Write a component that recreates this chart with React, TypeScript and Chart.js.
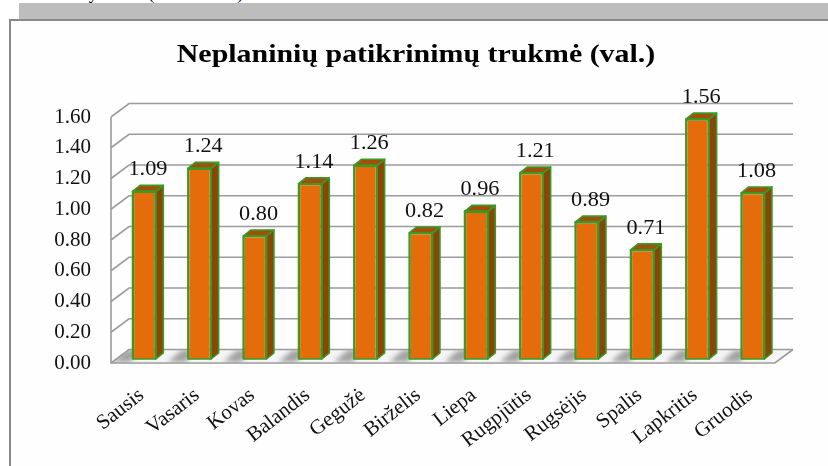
import React, { useEffect, useRef } from "react";
import { Chart, registerables } from "chart.js";

Chart.register(...registerables);

const months = [
  "Sausis",
  "Vasaris",
  "Kovas",
  "Balandis",
  "Gegužė",
  "Birželis",
  "Liepa",
  "Rugpjūtis",
  "Rugsėjis",
  "Spalis",
  "Lapkritis",
  "Gruodis",
];
const hours = [1.09, 1.24, 0.8, 1.14, 1.26, 0.82, 0.96, 1.21, 0.89, 0.71, 1.56, 1.08];
const yMin = 0;
const yMax = 1.6;
const yStep = 0.2;
const titleText = "Neplaninių patikrinimų trukmė (val.)";
const captionText = "Trukmė yra vid. (valandomis)";

const SERIF = "'Liberation Serif', 'Times New Roman', serif";
// 3D geometry
const DX = 18;
const DY = 13.5;
const SX = 5.5;
const SY = -4;
const BDX = 7.5;
const BDY = 6;

const FRONT = "#E46C0A";
const SIDE = "#8A4508";
const TOP = "#A0500A";
const EDGE = "#3A9A25";
const GRID = "#9C9C9C";

const threeD = {
  id: "threeD",
  beforeDatasetsDraw(chart: any) {
    const { ctx, chartArea: a, scales } = chart;
    const y = scales.y;
    ctx.save();
    // floor
    const floorPath = () => {
      ctx.beginPath();
      ctx.moveTo(a.left, a.bottom);
      ctx.lineTo(a.right, a.bottom);
      ctx.lineTo(a.right + DX, a.bottom - DY);
      ctx.lineTo(a.left + DX, a.bottom - DY);
      ctx.closePath();
    };
    floorPath();
    ctx.fillStyle = "#F5F5F5";
    ctx.fill();
    // bar shadows on floor
    const meta = chart.getDatasetMeta(0);
    ctx.save();
    floorPath();
    ctx.clip();
    ctx.filter = "blur(2.5px)";
    meta.data.forEach((bar: any) => {
      const { x, base, width } = bar.getProps(["x", "base", "width"], true);
      const x0 = x - width / 2 + SX;
      const b = base + SY;
      ctx.beginPath();
      ctx.moveTo(x0 - 2, b + 3);
      ctx.lineTo(x0 - 20, b + 3);
      ctx.lineTo(x0 - 6, b - 9);
      ctx.lineTo(x0 + 8, b - 9);
      ctx.closePath();
      ctx.fillStyle = "rgba(105,105,105,0.6)";
      ctx.fill();
    });
    ctx.restore();

    // back wall grid lines + side wall diagonals
    ctx.strokeStyle = GRID;
    ctx.lineWidth = 1.6;
    y.ticks.forEach((t: any) => {
      const py = y.getPixelForValue(t.value);
      ctx.beginPath();
      ctx.moveTo(a.left, py);
      ctx.lineTo(a.left + DX, py - DY);
      ctx.lineTo(a.right + DX, py - DY);
      ctx.stroke();
    });
    // front left edge and floor front edge
    ctx.beginPath();
    ctx.moveTo(a.left, a.top);
    ctx.lineTo(a.left, a.bottom);
    ctx.lineTo(a.right, a.bottom);
    ctx.lineTo(a.right + DX, a.bottom - DY);
    ctx.stroke();
    ctx.restore();

    ctx.save();
    ctx.translate(SX, SY);
  },
  afterDatasetsDraw(chart: any) {
    const { ctx } = chart;
    const meta = chart.getDatasetMeta(0);
    ctx.lineWidth = 1.6;
    ctx.strokeStyle = EDGE;
    ctx.lineJoin = "round";
    meta.data.forEach((bar: any) => {
      const { x, y, base, width } = bar.getProps(["x", "y", "base", "width"], true);
      const x0 = x - width / 2;
      const x1 = x + width / 2;
      // side face
      ctx.beginPath();
      ctx.moveTo(x1, y);
      ctx.lineTo(x1 + BDX, y - BDY);
      ctx.lineTo(x1 + BDX, base - BDY);
      ctx.lineTo(x1, base);
      ctx.closePath();
      ctx.fillStyle = SIDE;
      ctx.fill();
      ctx.stroke();
      // top face
      ctx.beginPath();
      ctx.moveTo(x0, y);
      ctx.lineTo(x0 + BDX, y - BDY);
      ctx.lineTo(x1 + BDX, y - BDY);
      ctx.lineTo(x1, y);
      ctx.closePath();
      ctx.fillStyle = TOP;
      ctx.fill();
      ctx.stroke();
      ctx.strokeRect(x0, y, width, base - y);
    });
    ctx.restore();

    // data labels
    ctx.save();
    ctx.font = `21px ${SERIF}`;
    ctx.fillStyle = "#111";
    ctx.textAlign = "center";
    ctx.textBaseline = "alphabetic";
    meta.data.forEach((bar: any, i: number) => {
      const { x, y } = bar.getProps(["x", "y"], true);
      ctx.save();
      ctx.translate(x + SX + BDX / 2, y + SY - 16);
      ctx.scale(1.06, 1);
      ctx.fillText(hours[i].toFixed(2), 0, 0);
      ctx.restore();
    });
    ctx.restore();
  },
  afterDraw(chart: any) {
    const { ctx } = chart;
    ctx.save();
    ctx.font = `bold 26px ${SERIF}`;
    ctx.fillStyle = "#000";
    ctx.textAlign = "center";
    ctx.textBaseline = "alphabetic";
    ctx.translate(416, 62);
    ctx.scale(1.15, 1);
    ctx.fillText(titleText, 0, 0);
    ctx.restore();
  },
};

export default function App() {
  const ref = useRef<HTMLCanvasElement | null>(null);

  useEffect(() => {
    if (!ref.current) return;
    const chart = new Chart(ref.current, {
      type: "bar",
      data: {
        labels: months,
        datasets: [
          {
            data: hours,
            backgroundColor: FRONT,
            borderColor: EDGE,
            borderWidth: 1.6,
            categoryPercentage: 1,
            barPercentage: 0.42,
          },
        ],
      },
      options: {
        animation: false,
        responsive: false,
        devicePixelRatio: 1,
        layout: { padding: { left: 0, right: 53, top: 117, bottom: 0 } },
        plugins: {
          legend: { display: false },
          tooltip: { enabled: false },
          title: { display: false },
        },
        scales: {
          x: {
            grid: { display: false },
            border: { display: false },
            ticks: {
              autoSkip: false,
              minRotation: 38,
              maxRotation: 38,
              padding: 12,
              labelOffset: 3,
              color: "#111",
              font: { family: SERIF, size: 21 },
            },
            afterFit(s: any) {
              s.height = 103;
            },
          },
          y: {
            min: yMin,
            max: yMax,
            grid: { display: false, drawTicks: false },
            border: { display: false },
            ticks: {
              stepSize: yStep,
              padding: 20,
              color: "#111",
              font: { family: SERIF, size: 21 },
              callback: (v: any) => Number(v).toFixed(2),
            },
            afterFit(s: any) {
              s.width = 111;
            },
          },
        },
      },
      plugins: [threeD],
    });
    return () => chart.destroy();
  }, []);

  return (
    <div
      style={{
        position: "fixed",
        left: 0,
        top: 0,
        width: 828,
        height: 466,
        overflow: "hidden",
        background: "#fff",
      }}
    >
      <div
        style={{
          position: "absolute",
          left: 28,
          top: -16,
          font: `18px ${SERIF}`,
          lineHeight: "18px",
          whiteSpace: "nowrap",
          color: "#000",
        }}
      >
        {captionText}
      </div>
      <div
        style={{
          position: "absolute",
          left: 19,
          top: 3,
          width: 809,
          height: 16,
          background: "#BDBDBD",
        }}
      />
      <div
        style={{
          position: "absolute",
          left: 9,
          top: 19,
          width: 900,
          height: 500,
          borderTop: "2px solid #8A8A8A",
          borderLeft: "2px solid #8A8A8A",
          background: "#FEFEFE",
        }}
      />
      <canvas
        ref={ref}
        width={828}
        height={466}
        style={{ position: "absolute", left: 0, top: 0, width: 828, height: 466 }}
      />
    </div>
  );
}
